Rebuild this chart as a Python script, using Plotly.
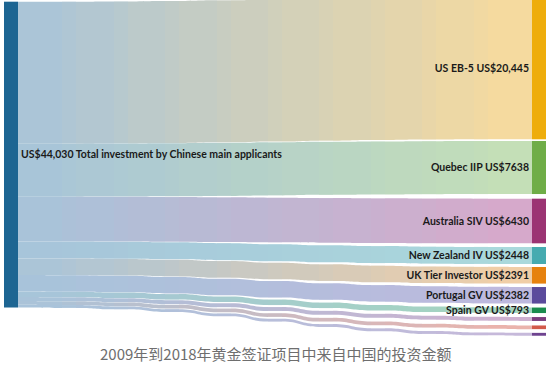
import plotly.graph_objects as go

# ---------------- data ----------------
source_label = "US$44,030 Total investment by Chinese main applicants"
total_investment = 44030
programmes = ["US EB-5", "Quebec IIP", "Australia SIV", "New Zealand IV",
              "UK Tier Investor", "Portugal GV", "Spain GV",
              "Other A", "Other B", "Other C"]
amounts = [20445, 7638, 6430, 2448, 2391, 2382, 793, 560, 530, 413]
target_labels = ["US EB-5 US$20,445", "Quebec IIP US$7638", "Australia SIV US$6430",
                 "New Zealand IV US$2448", "UK Tier Investor US$2391",
                 "Portugal GV US$2382", "Spain GV US$793", "", "", ""]
title_text = "2009年到2018年黄金签证项目中来自中国的投资金额"

# ---------------- styles ----------------
source_color = "#1d6592"
link_start_color = "#a7c4da"
node_colors = ["#eead0c", "#6fad47", "#9b3473", "#46abb0", "#e6820f",
               "#5b4b9c", "#1b8c4e", "#7b3d7e", "#d25a4a", "#6f4490"]
link_end_colors = ["#f9db9c", "#c5e0b5", "#d8a8ca", "#aadadc", "#f4cfa4",
                   "#bfb8de", "#a3d6bd", "#cfb0cf", "#eeb2aa", "#c8b8da"]

# ---------------- layout geometry ----------------
FIG_W, FIG_H = 549, 365
SANKEY_H = 340
PAD = 3.8
THICK = 14
LEFT_CX = 11.0          # px, centre of source node
RIGHT_CX = 539.0        # px, centre of target nodes
SOURCE_CY = 154.6       # px
TARGET_CY = [68.3, 167.5, 221.0, 255.5, 275.3, 295.3, 310.3, 319.0, 327.3, 334.3]
K = 10                  # gradient steps

ky = (SANKEY_H - (len(amounts) - 1) * PAD) / total_investment


def hex2rgb(h):
    h = h.lstrip("#")
    return [int(h[i:i + 2], 16) for i in (0, 2, 4)]


def mix(c0, c1, f):
    a, b = hex2rgb(c0), hex2rgb(c1)
    return "#%02x%02x%02x" % tuple(round(a[j] + (b[j] - a[j]) * f) for j in range(3))


def bez_y(u):
    # plotly link path: cubic bezier with control x at the middle
    lo, hi = 0.0, 1.0
    for _ in range(50):
        t = (lo + hi) / 2
        if 1.5 * t * (1 - t) + t ** 3 < u:
            lo = t
        else:
            hi = t
    t = (lo + hi) / 2
    return 3 * t * t - 2 * t ** 3


x0 = LEFT_CX + THICK / 2
x1 = RIGHT_CX - THICK / 2
n_t = len(amounts)
n_inter = n_t * (K - 1)
SRC = n_inter                 # source node index (drawn after helpers)
TGT0 = n_inter + 1            # first target node index

labels, colors, nx, ny = [], [], [], []
src, tgt, val, lcol = [], [], [], []
band_top = SOURCE_CY - total_investment * ky / 2
for i, v in enumerate(amounts):
    ys = band_top + v * ky / 2
    band_top += v * ky
    ye = TARGET_CY[i]
    chain = [SRC]
    for k in range(1, K):
        xk = float(round(x0 + (x1 - x0) * k / K))
        u = (xk - x0) / (x1 - x0)
        yk = ys + (ye - ys) * bez_y(u)
        labels.append("")
        colors.append(mix(link_start_color, link_end_colors[i], u))
        nx.append(xk / FIG_W)
        ny.append(yk / SANKEY_H)
        chain.append(len(labels) - 1)
    chain.append(TGT0 + i)
    for k in range(K):
        src.append(chain[k])
        tgt.append(chain[k + 1])
        val.append(v)
        lcol.append(mix(link_start_color, link_end_colors[i], (k + 0.5) / K))

labels += ["<b>%s</b>" % s if s else "" for s in [source_label] + target_labels]
colors += [source_color] + node_colors
nx += [LEFT_CX / FIG_W] + [RIGHT_CX / FIG_W] * n_t
ny += [SOURCE_CY / SANKEY_H] + [c / SANKEY_H for c in TARGET_CY]

fig = go.Figure(go.Sankey(
    arrangement="fixed",
    domain=dict(x=[0, 1], y=[0, 1]),
    node=dict(label=labels, color=colors, x=nx, y=ny, pad=PAD, thickness=THICK,
              line=dict(width=0), hoverinfo="none"),
    link=dict(source=src, target=tgt, value=val, color=lcol, hoverinfo="none"),
    textfont=dict(family="Lato, sans-serif", size=10.5,
                  color="#1a1a1a", shadow="none"),
))

fig.add_annotation(text=title_text, xref="paper", yref="paper", x=0.503, y=-13 / SANKEY_H,
                   xanchor="center", yanchor="middle", showarrow=False,
                   font=dict(family="Noto Sans CJK SC", size=15, color="#6e6e6e"))

fig.update_layout(width=FIG_W, height=FIG_H, margin=dict(l=0, r=0, t=0, b=FIG_H - SANKEY_H),
                  paper_bgcolor="white", plot_bgcolor="white")

fig.write_html("out.html", config={"displayModeBar": False},
               post_script="document.body.style.margin='0';")
